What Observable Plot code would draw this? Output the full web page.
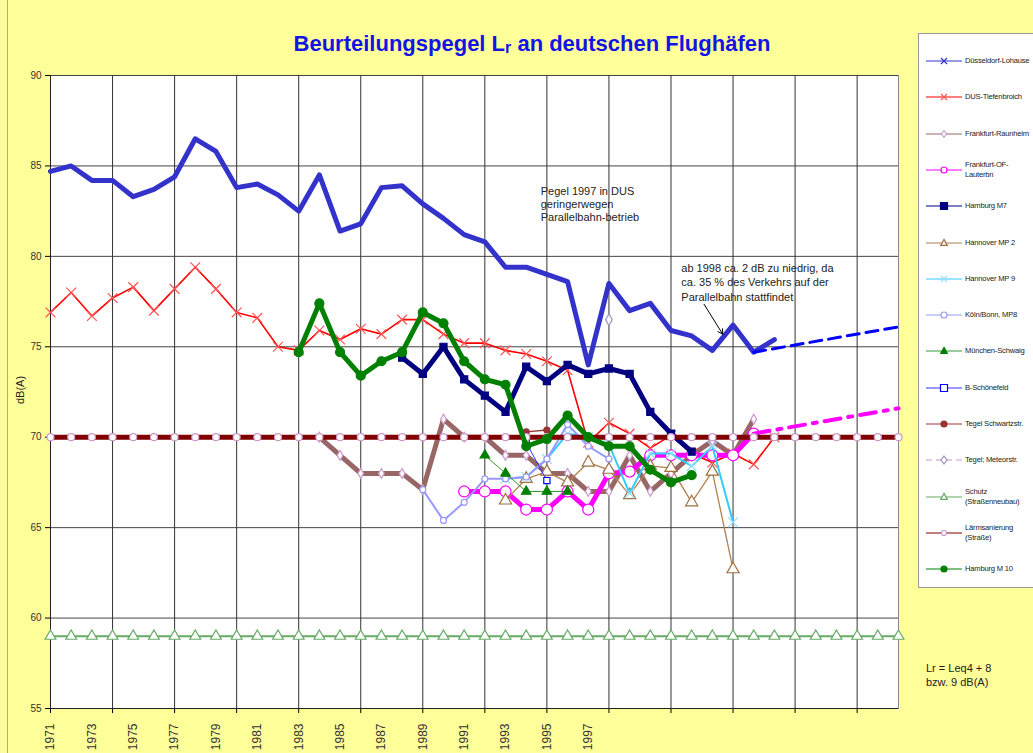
<!DOCTYPE html>
<html>
<head>
<meta charset="utf-8">
<script src="https://cdn.jsdelivr.net/npm/d3@7"></script>
<script src="https://cdn.jsdelivr.net/npm/@observablehq/plot@0.6"></script>
<style>
  html, body { margin: 0; padding: 0; width: 1033px; height: 753px; overflow: hidden; background: #FFFF99; font-family: "Liberation Sans", Arial, sans-serif; }
  #chart { position: absolute; left: 0; top: 0; }
  #title { position: absolute; left: 0; width: 1064px; top: 31px; text-align: center; font-weight: bold; font-size: 22px; color: #1414E6; }
  #title .sub { font-size: 16px; position: relative; top: 2px; }
  #legend { position: absolute; left: 918px; top: 33px; width: 130px; height: 553px; background: #fff; border: 1px solid #999; }
  .item { position: absolute; left: 0; height: 30px; width: 130px; }
  .item svg { position: absolute; left: 4px; top: 0; }
  .item .lab { position: absolute; left: 46px; font-size: 7.6px; letter-spacing: -0.2px; color: #222; line-height: 10px; white-space: nowrap; }
  #note { position: absolute; left: 926px; top: 661px; font-size: 11px; color: #222; line-height: 14px; }
  #border { position: absolute; left: 7px; top: 0; width: 1px; height: 753px; background: #aaa; }
</style>
</head>
<body>
<div id="border"></div>
<div id="chart"></div>
<div id="title">Beurteilungspegel L<span class="sub">r</span> an deutschen Flughäfen</div>
<div id="legend"></div>
<div id="note">Lr = Leq4 + 8<br>bzw. 9 dB(A)</div>
<script>
// ---------- DATA ----------
const gridYears = [1971, 1974, 1977, 1980, 1983, 1986, 1989, 1992, 1995, 1998, 2001, 2004, 2007, 2010];
const labelYears = [1971, 1973, 1975, 1977, 1979, 1981, 1983, 1985, 1987, 1989, 1991, 1993, 1995, 1997];
const yTicks = [55, 60, 65, 70, 75, 80, 85, 90];

const duesseldorfStart = 1971;
const duesseldorf = [84.7, 85.0, 84.2, 84.2, 83.3, 83.7, 84.4, 86.5, 85.8, 83.8, 84.0, 83.4, 82.5, 84.5, 81.4, 81.8, 83.8, 83.9, 82.9, 82.1, 81.2, 80.8, 79.4, 79.4, 79.0, 78.6, 74.0, 78.5, 77.0, 77.4, 75.9, 75.6, 74.8, 76.2, 74.7, 75.4];
const duesseldorfTrendYears = [2005, 2012];
const duesseldorfTrend = [74.7, 76.1];

const tiefenbroichStart = 1971;
const tiefenbroich = [76.9, 78.0, 76.7, 77.7, 78.3, 77.0, 78.2, 79.4, 78.2, 76.9, 76.6, 75.0, 74.8, 75.9, 75.4, 76.0, 75.7, 76.5, 76.5, 75.7, 75.2, 75.2, 74.8, 74.6, 74.2, 73.7, 69.7, 70.8, 70.2, 69.4, 70.1, 69.1, 68.6, 69.1, 68.5, 70.0];

const raunheimStart = 1984;
const raunheim = [70.0, 69.0, 68.0, 68.0, 68.0, 67.1, 71.0, 70.0, 70.0, 69.0, 69.0, 68.0, 68.0, 67.0, 67.0, 69.0, 67.0, 68.0, 69.0, 69.8, 69.0, 71.0];

const lauterbnStart = 1991;
const lauterbn = [67.0, 67.0, 67.0, 66.0, 66.0, 67.0, 66.0, 68.0, 68.1, 69.0, 69.0, 69.0, 69.0, 69.0, 70.2];
const lauterbnTrendYears = [2005, 2012];
const lauterbnTrend = [70.2, 71.6];

const hamburgM7Start = 1988;
const hamburgM7 = [74.4, 73.5, 75.0, 73.2, 72.3, 71.4, 73.9, 73.1, 74.0, 73.5, 73.8, 73.5, 71.4, 70.2, 69.2];

const hannoverMP2Start = 1993;
const hannoverMP2 = [66.5, 67.7, 68.1, 67.5, 68.6, 68.2, 66.8, 68.4, 68.3, 66.4, 68.1, 62.7];

const hannoverMP9Start = 1993;
const hannoverMP9 = [67.7, 67.8, 68.8, 70.2, 70.0, 69.6, 66.9, 69.1, 69.1, 68.4, 69.5, 65.3];

const koelnStart = 1989;
const koeln = [67.1, 65.4, 66.4, 67.7, 67.7, 67.8, 68.8, 70.7, 69.5, 68.8];

const muenchenStart = 1992;
const muenchen = [69.0, 68.0, 67.0, 67.0, 67.0];

const schoenefeldStart = 1994;
const schoenefeld = [69.7, 67.6];

const tegelSStart = 1994;
const tegelS = [70.3, 70.4];

const tegelMStart = 1998;
const tegelM = [76.5];

const schutzStart = 1971;
const schutz = [59, 59, 59, 59, 59, 59, 59, 59, 59, 59, 59, 59, 59, 59, 59, 59, 59, 59, 59, 59, 59, 59, 59, 59, 59, 59, 59, 59, 59, 59, 59, 59, 59, 59, 59, 59, 59, 59, 59, 59, 59, 59];

const laermStart = 1971;
const laerm = [70, 70, 70, 70, 70, 70, 70, 70, 70, 70, 70, 70, 70, 70, 70, 70, 70, 70, 70, 70, 70, 70, 70, 70, 70, 70, 70, 70, 70, 70, 70, 70, 70, 70, 70, 70, 70, 70, 70, 70, 70, 70];

const hamburgM10Start = 1983;
const hamburgM10 = [74.7, 77.4, 74.7, 73.4, 74.2, 74.7, 76.9, 76.3, 74.2, 73.2, 72.9, 69.5, 69.9, 71.2, 70.0, 69.5, 69.5, 68.2, 67.5, 67.9];

// ---------- BUILD ----------
const rows = (start, vals) => vals.map((v, i) => ({year: start + i, value: v}));
const pairRows = (yrs, vals) => vals.map((v, i) => ({year: yrs[i], value: v}));

const series = [
  {name: "Düsseldorf-Lohause", data: rows(duesseldorfStart, duesseldorf), stroke: "#3333CC", sw: 5, legSw: 1.2, sym: "times", mr: 0, legR: 3, mfill: "none", mstroke: "#3333CC"},
  {name: "DUS-Tiefenbroich", data: rows(tiefenbroichStart, tiefenbroich), stroke: "#FF0000", sw: 1.6, legSw: 1.2, sym: "times", mr: 4.5, legR: 3, mfill: "none", mstroke: "#FF5555"},
  {name: "Frankfurt-Raunheim", data: rows(raunheimStart, raunheim), stroke: "#996666", sw: 5, legSw: 1.2, sym: "diamond", mr: 3, legR: 2.5, mfill: "#fff", mstroke: "#CC99CC"},
  {name: " Frankfurt-OF-\nLauterbn", data: rows(lauterbnStart, lauterbn), stroke: "#FF00FF", sw: 5, legSw: 1.2, sym: "circle", mr: 5.5, legR: 3, mfill: "#fff", mstroke: "#FF00FF"},
  {name: "Hamburg M7", data: rows(hamburgM7Start, hamburgM7), stroke: "#000080", sw: 5, legSw: 1.2, sym: "square", mr: 4, legR: 3.5, mfill: "#000080", mstroke: "#000080"},
  {name: "Hannover MP 2", data: rows(hannoverMP2Start, hannoverMP2), stroke: "#B08050", sw: 1.3, legSw: 1.2, sym: "triangle", mr: 4.5, legR: 3, mfill: "#fff", mstroke: "#A07040"},
  {name: "Hannover MP 9", data: rows(hannoverMP9Start, hannoverMP9), stroke: "#33CCFF", sw: 2, legSw: 1.2, sym: "times", mr: 4.5, legR: 3, mfill: "none", mstroke: "#99DDFF"},
  {name: "Köln/Bonn, MP8", data: rows(koelnStart, koeln), stroke: "#9999FF", sw: 2, legSw: 1.2, sym: "circle", mr: 3, legR: 3, mfill: "#fff", mstroke: "#9999FF"},
  {name: "München-Schwaig", data: rows(muenchenStart, muenchen), stroke: "#339933", sw: 1, legSw: 1.2, sym: "triangle", mr: 3.5, legR: 3, mfill: "#008000", mstroke: "#008000"},
  {name: "B-Schönefeld", data: rows(schoenefeldStart, schoenefeld), stroke: "#3333FF", sw: 1, legSw: 1.2, sym: "square", mr: 3.5, legR: 3.5, mfill: "#fff", mstroke: "#0000FF"},
  {name: "Tegel Schwartzstr.", data: rows(tegelSStart, tegelS), stroke: "#993333", sw: 1.3, legSw: 1.2, sym: "circle", mr: 3, legR: 3, mfill: "#993333", mstroke: "#993333"},
  {name: "Tegel; Meteorstr.", data: rows(tegelMStart, tegelM), stroke: "#CC99CC", sw: 1.2, legSw: 1.2, dash: "6,4", sym: "diamond", mr: 3.5, legR: 3, mfill: "#fff", mstroke: "#9999BB"},
  {name: "Schutz\n(Straßenneubau)", data: rows(schutzStart, schutz), stroke: "#66AA66", sw: 2, legSw: 1.2, sym: "triangle", mr: 4, legR: 3, mfill: "#fff", mstroke: "#66AA66"},
  {name: "Lärmsanierung\n(Straße)", data: rows(laermStart, laerm), stroke: "#800000", sw: 5, legSw: 1.2, sym: "circle", mr: 3.5, legR: 2.5, mfill: "#fff", mstroke: "#CC99CC"},
  {name: "Hamburg M 10", data: rows(hamburgM10Start, hamburgM10), stroke: "#008000", sw: 5, legSw: 1.2, sym: "circle", mr: 4.5, legR: 3, mfill: "#008000", mstroke: "#008000"}
];

const marks = [
  Plot.frame({fill: "#fff", stroke: "#888"}),
  Plot.gridY(yTicks, {stroke: "#444", strokeOpacity: 1}),
  Plot.gridX(gridYears, {stroke: "#333", strokeOpacity: 1}),
  Plot.axisY(yTicks, {tickSize: 5, tickPadding: 4, fontSize: 10, fill: "#333", label: null}),
  Plot.axisX(gridYears, {tickSize: 5, tickFormat: () => "", label: null}),
  Plot.axisX(labelYears, {tickSize: 0, tickPadding: 15, tickRotate: -90, textAnchor: "end", lineAnchor: "middle", fontSize: 12, fill: "#333", tickFormat: d => String(d), label: null}),
  Plot.ruleY([55], {stroke: "#222"}),
  Plot.ruleX([1971], {stroke: "#222"})
];

for (const s of series) {
  if (s.data.length > 1) {
    marks.push(Plot.line(s.data, {x: "year", y: "value", stroke: s.stroke, strokeWidth: s.sw, strokeDasharray: s.dash, strokeLinejoin: "round"}));
  }
  if (s.mr > 0) {
    marks.push(Plot.dot(s.data, {x: "year", y: "value", symbol: s.sym, r: s.mr, fill: s.mfill, stroke: s.mstroke, strokeWidth: 1.2}));
  }
  if (s.name === "Düsseldorf-Lohause") {
    marks.push(Plot.line(pairRows(duesseldorfTrendYears, duesseldorfTrend), {x: "year", y: "value", stroke: "#0000FF", strokeWidth: 3, strokeDasharray: "12,7"}));
  }
  if (s.name === " Frankfurt-OF-\nLauterbn") {
    marks.push(Plot.line(pairRows(lauterbnTrendYears, lauterbnTrend), {x: "year", y: "value", stroke: "#FF00FF", strokeWidth: 4, strokeDasharray: "16,8,4,8"}));
  }
}

// annotations
marks.push(
  Plot.text(["Pegel 1997 in DUS\ngeringerwegen\nParallelbahn-betrieb"], {x: 1994.7, y: 82.9, text: d => d, textAnchor: "start", lineAnchor: "middle", fontSize: 11, fill: "#222", lineHeight: 1.2}),
  Plot.text(["ab 1998 ca. 2 dB zu niedrig, da\nca. 35 % des Verkehrs auf der\nParallelbahn stattfindet"], {x: 2001.5, y: 78.6, text: d => d, textAnchor: "start", lineAnchor: "middle", fontSize: 11, fill: "#222", lineHeight: 1.3}),
  Plot.arrow([0], {x1: 2002.6, y1: 77.35, x2: 2003.5, y2: 75.7, stroke: "#000", strokeWidth: 1, headLength: 8})
);

const chart = Plot.plot({
  width: 1033,
  height: 753,
  marginLeft: 50,
  marginRight: 135,
  marginTop: 75,
  marginBottom: 45,
  x: {domain: [1971, 2012]},
  y: {domain: [55, 90]},
  style: {background: "transparent", fontFamily: "Liberation Sans, Arial, sans-serif", overflow: "visible"},
  marks
});
document.getElementById("chart").appendChild(chart);

// y label
const yl = document.createElementNS("http://www.w3.org/2000/svg", "text");
yl.setAttribute("transform", "translate(24,390) rotate(-90)");
yl.setAttribute("text-anchor", "middle");
yl.setAttribute("font-size", "11");
yl.setAttribute("fill", "#222");
yl.textContent = "dB(A)";
chart.appendChild(yl);

// legend
const legend = document.getElementById("legend");
const symPath = {
  times: r => `M${-r},${-r}L${r},${r}M${-r},${r}L${r},${-r}`,
  square: r => `M${-r},${-r}H${r}V${r}H${-r}Z`,
  diamond: r => `M0,${-r * 1.3}L${r},0L0,${r * 1.3}L${-r},0Z`,
  triangle: r => `M0,${-r * 1.2}L${r * 1.1},${r * 0.8}L${-r * 1.1},${r * 0.8}Z`
};
series.forEach((s, i) => {
  const cy = 27 + i * 36.3;
  const item = document.createElement("div");
  item.className = "item";
  item.style.top = (cy - 15) + "px";
  const lines = s.name.split("\n");
  let m;
  if (s.sym === "circle") m = `<circle cx="21" cy="15" r="${s.legR}" fill="${s.mfill}" stroke="${s.mstroke}" stroke-width="1.2"/>`;
  else m = `<path transform="translate(21,15)" d="${symPath[s.sym](s.legR)}" fill="${s.mfill === "none" ? "none" : s.mfill}" stroke="${s.mstroke}" stroke-width="1.2"/>`;
  item.innerHTML = `<svg width="40" height="30"><line x1="3" x2="39" y1="15" y2="15" stroke="${s.stroke}" stroke-width="${s.legSw}" ${s.dash ? `stroke-dasharray="${s.dash}"` : ""}/>${m}</svg>` +
    `<div class="lab" style="top:${lines.length > 1 ? 5 : 10}px">${lines.join("<br>")}</div>`;
  legend.appendChild(item);
});
</script>
</body>
</html>
